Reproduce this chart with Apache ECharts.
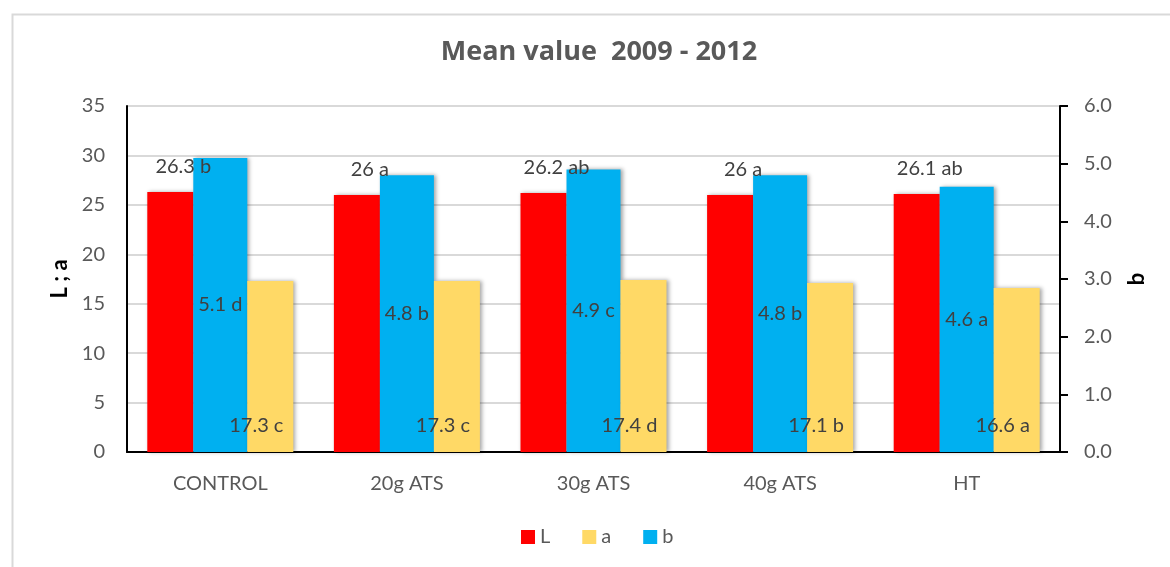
<!DOCTYPE html>
<html>
<head>
<meta charset="utf-8">
<script src="https://cdn.jsdelivr.net/npm/echarts@6/dist/echarts.min.js"></script>
<style>html,body{margin:0;padding:0;background:#fff;}#c{width:1170px;height:567px;}</style>
</head>
<body>
<div id="c"></div>
<script>
var categories = ['CONTROL', '20g ATS', '30g ATS', '40g ATS', 'HT'];
var valuesL = [26.3, 26, 26.2, 26, 26.1];
var lettersL = ['b', 'a', 'ab', 'a', 'ab'];
var valuesA = [17.3, 17.3, 17.4, 17.1, 16.6];
var lettersA = ['c', 'c', 'd', 'b', 'a'];
var valuesB = [5.1, 4.8, 4.9, 4.8, 4.6];
var lettersB = ['d', 'b', 'c', 'b', 'a'];
var leftTicks = {min: 0, max: 35, interval: 5};
var rightTicks = {min: 0, max: 6, interval: 1};

var FONT = 'Lato';
var chart = echarts.init(document.getElementById('c'), null, {renderer: 'canvas'});
function fmt(vals, letters) {
  return function (p) { return vals[p.dataIndex] + ' ' + letters[p.dataIndex]; };
}
var shadow = {shadowColor: 'rgba(0,0,0,0.35)', shadowBlur: 4, shadowOffsetX: 2, shadowOffsetY: 0};
var labelBase = {show: true, color: '#404040', fontFamily: FONT, fontSize: 20, lineHeight: 20};

chart.setOption({
  animation: false,
  backgroundColor: '#fff',
  graphic: [{
    type: 'rect', left: 10, top: 12, silent: true, z: -10,
    shape: {x: 0, y: 0, width: 1220, height: 620},
    style: {fill: 'none', stroke: '#d9d9d9', lineWidth: 2}
  }],
  title: {
    text: 'Mean value  2009 - 2012',
    left: 594, top: 34, textAlign: 'center',
    textStyle: {fontFamily: 'Open Sans', fontSize: 27, fontWeight: 'bold', color: '#595959'}
  },
  legend: {
    data: ['L', 'a', 'b'],
    left: 516, top: 522,
    icon: 'rect', itemWidth: 14, itemHeight: 14, itemGap: 32,
    textStyle: {fontFamily: FONT, fontSize: 20, color: '#595959'}
  },
  grid: {left: 127, right: 110, top: 106, bottom: 115, containLabel: false},
  xAxis: [{
    type: 'category', data: categories,
    axisLine: {lineStyle: {color: '#000', width: 2}},
    axisTick: {show: false},
    axisLabel: {fontFamily: FONT, fontSize: 20, color: '#595959', margin: 22}
  }, {
    type: 'category', data: categories, show: false
  }],
  yAxis: [{
    type: 'value', position: 'left',
    min: leftTicks.min, max: leftTicks.max, interval: leftTicks.interval,
    name: 'L ; a', nameLocation: 'middle', nameRotate: 90, nameGap: 56,
    nameTextStyle: {fontFamily: FONT, fontSize: 22, fontWeight: 'bold', color: '#000'},
    axisLine: {show: true, lineStyle: {color: '#000', width: 2}},
    axisTick: {show: false},
    axisLabel: {fontFamily: FONT, fontSize: 20, color: '#595959', margin: 22},
    splitLine: {show: true, lineStyle: {color: '#d9d9d9', width: 2}}
  }, {
    type: 'value', position: 'right',
    min: rightTicks.min, max: rightTicks.max, interval: rightTicks.interval,
    name: 'b', nameLocation: 'middle', nameRotate: 90, nameGap: 66,
    nameTextStyle: {fontFamily: FONT, fontSize: 22, fontWeight: 'bold', color: '#000'},
    axisLine: {show: true, lineStyle: {color: '#000', width: 2}},
    axisTick: {show: true, inside: false, length: 8, lineStyle: {color: '#000', width: 2}},
    axisLabel: {fontFamily: FONT, fontSize: 20, color: '#595959', margin: 24,
      formatter: function (v) { return v.toFixed(1); }},
    splitLine: {show: false}
  }],
  series: [{
    name: 'L', type: 'bar', xAxisIndex: 0, yAxisIndex: 0,
    data: valuesL, barWidth: 46, barGap: '117.4%',
    itemStyle: Object.assign({color: '#FF0000'}, shadow),
    label: Object.assign({}, labelBase, {position: 'top', offset: [13, -10], formatter: fmt(valuesL, lettersL)})
  }, {
    name: 'b', type: 'bar', xAxisIndex: 1, yAxisIndex: 1,
    data: valuesB, barWidth: 54,
    itemStyle: Object.assign({color: '#00B0F0'}, shadow),
    label: Object.assign({}, labelBase, {position: 'inside', formatter: fmt(valuesB, lettersB)})
  }, {
    name: 'a', type: 'bar', xAxisIndex: 0, yAxisIndex: 0,
    data: valuesA, barWidth: 46, barGap: '117.4%',
    itemStyle: Object.assign({color: '#FFD966'}, shadow),
    label: Object.assign({}, labelBase, {position: 'insideBottom', distance: 16, offset: [-14, 0], formatter: fmt(valuesA, lettersA)})
  }]
});
</script>
</body>
</html>
